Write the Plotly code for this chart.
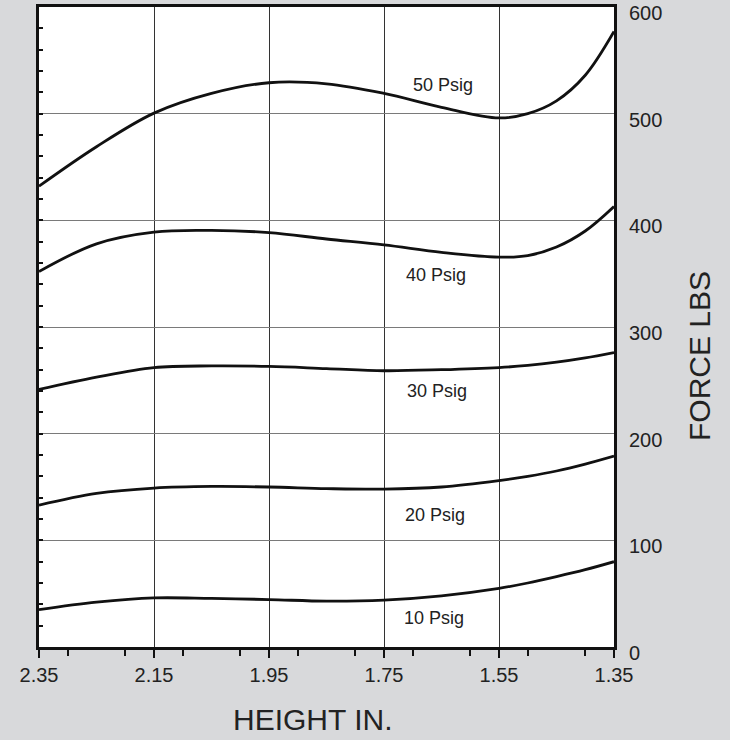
import plotly.graph_objects as go

# ---- data ----
height_in = [2.35, 2.25, 2.15, 2.05, 1.95, 1.85, 1.75, 1.65, 1.55, 1.50, 1.45, 1.40, 1.35]
force_10 = [35, 42, 46, 45.5, 44.5, 43, 44, 48, 55, 60, 66, 72.5, 80]
force_20 = [133, 144, 149, 150.5, 150, 148.5, 148, 150, 156, 160, 165, 171.5, 179]
force_30 = [241.5, 253, 262, 263.5, 263, 261, 259, 260, 262, 264, 267, 271, 276]
force_40 = [352, 378, 389, 390.5, 388.5, 382.5, 377, 370, 365.5, 367, 375, 390, 413]
force_50 = [432, 469, 500.5, 519, 529, 528, 519, 506, 496, 500, 512, 536, 577]
series_names = ["10 Psig", "20 Psig", "30 Psig", "40 Psig", "50 Psig"]
x_ticks = [2.35, 2.15, 1.95, 1.75, 1.55, 1.35]
x_tick_labels = ["2.35", "2.15", "1.95", "1.75", "1.55", "1.35"]
y_ticks = [0, 100, 200, 300, 400, 500, 600]

series = [force_10, force_20, force_30, force_40, force_50]

# label anchor positions (layout only)
label_pos = [(1.663, 27), (1.661, 124), (1.657, 240), (1.659, 349), (1.648, 527)]

fig = go.Figure()
for name, ys in zip(series_names, series):
    fig.add_trace(go.Scatter(
        x=height_in, y=ys, mode="lines", name=name,
        line=dict(color="#111111", width=2.8, shape="spline", smoothing=1.0),
        showlegend=False, hoverinfo="x+y+name"))

# empty trace to bring up the left (inside-tick) axis
fig.add_trace(go.Scatter(x=[], y=[], xaxis="x", yaxis="y2", showlegend=False))

for name, (lx, ly) in zip(series_names, label_pos):
    fig.add_annotation(x=lx, y=ly, xref="x", yref="y", text=name, showarrow=False,
                       xanchor="center", yanchor="middle",
                       font=dict(family="Liberation Sans Narrow, Arial Narrow, Liberation Sans, sans-serif",
                                 size=18, color="#222222"))

fig.add_annotation(x=0.4765, y=-0.1125, xref="paper", yref="paper", text="HEIGHT IN.",
                   xanchor="center", yanchor="middle",
                   showarrow=False, font=dict(family="Liberation Sans, Arial, sans-serif", size=30, color="#222222"))
fig.add_annotation(x=1.1496, y=0.4547, xref="paper", yref="paper", text="FORCE LBS", textangle=-90,
                   xanchor="center", yanchor="middle",
                   showarrow=False, font=dict(family="Liberation Sans, Arial, sans-serif", size=30, color="#222222"))

fig.update_layout(
    width=730, height=740,
    margin=dict(l=39, r=116, t=7, b=93, autoexpand=False),
    paper_bgcolor="#d8d9db",
    plot_bgcolor="#ffffff",
    font=dict(family="Liberation Sans, Arial, sans-serif", size=20, color="#222222"),
    xaxis=dict(
        range=[2.35, 1.35], tickmode="array", tickvals=x_ticks, ticktext=x_tick_labels,
        showline=True, linewidth=3, linecolor="#111111", mirror=True,
        showgrid=True, gridcolor="#333333", gridwidth=1,
        ticks="outside", ticklen=8, tickwidth=2, tickcolor="#111111",
        minor=dict(ticks="outside", ticklen=6, tickwidth=2, tickcolor="#111111", dtick=0.1, showgrid=False),
        zeroline=False, fixedrange=True, ticklabeloverflow="allow", automargin=False,
    ),
    yaxis=dict(
        range=[0, 600], side="right", tickmode="array", tickvals=y_ticks,
        showline=True, linewidth=3, linecolor="#111111", mirror=False,
        showgrid=True, gridcolor="#7a7a7a", gridwidth=1.2,
        ticks="", ticklabelstandoff=8, ticklabelshift=6, ticklabeloverflow="allow",
        zeroline=False, fixedrange=True, automargin=False,
    ),
    yaxis2=dict(
        range=[0, 600], overlaying="y", side="left", showline=True, linewidth=3,
        linecolor="#111111", showgrid=False, zeroline=False, showticklabels=False,
        ticks="inside", tickmode="linear", tick0=0, dtick=20, ticklen=4, tickwidth=2,
        tickcolor="#111111", fixedrange=True, automargin=False,
    ),
)

fig.write_html("out.html", config={"displayModeBar": False},
               post_script="document.body.style.margin='0';document.body.style.padding='0';")
